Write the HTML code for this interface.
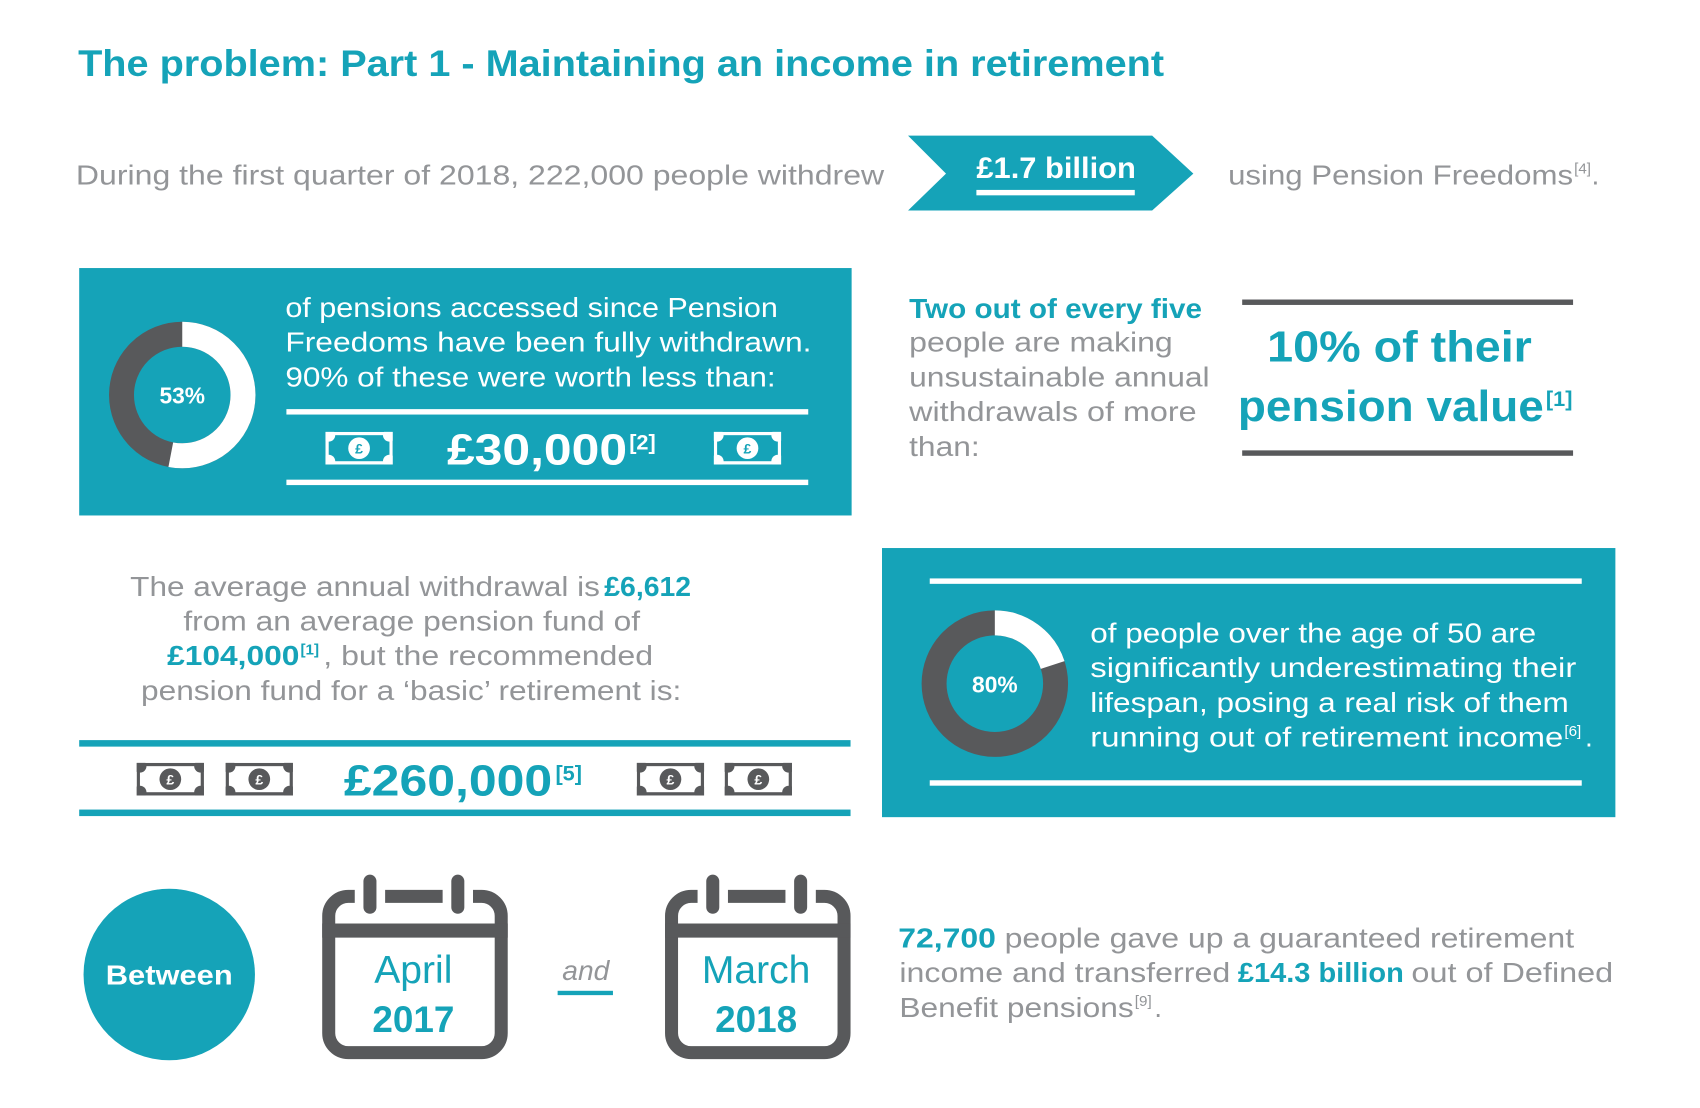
<!DOCTYPE html>
<html><head><meta charset="utf-8"><style>
html,body{margin:0;padding:0;background:#fff;}
svg{display:block;}
text{font-family:"Liberation Sans",sans-serif;}
.g{fill:#939598;}
.t{fill:#15a3b8;}
.w{fill:#fff;}
.b{font-weight:bold;}
</style></head><body>
<svg width="1700" height="1108" viewBox="0 0 1567 1021" preserveAspectRatio="none" xmlns="http://www.w3.org/2000/svg">
<defs>
<clipPath id="bc"><rect x="0" y="0" width="62" height="30"/></clipPath>
<g id="billW" clip-path="url(#bc)">
<rect x="0" y="0" width="62" height="30" fill="#fff"/>
<rect x="3" y="3" width="56" height="24" fill="#15a3b8"/>
<circle cx="3" cy="3" r="6" fill="#fff"/><circle cx="59" cy="3" r="6" fill="#fff"/>
<circle cx="3" cy="27" r="6" fill="#fff"/><circle cx="59" cy="27" r="6" fill="#fff"/>
<circle cx="31" cy="15" r="10" fill="#fff"/>
<text x="31" y="20" text-anchor="middle" font-size="13" font-weight="bold" fill="#15a3b8">£</text>
</g>
<g id="billD" clip-path="url(#bc)">
<rect x="0" y="0" width="62" height="30" fill="#58595b"/>
<rect x="3" y="3" width="56" height="24" fill="#fff"/>
<circle cx="3" cy="3" r="6" fill="#58595b"/><circle cx="59" cy="3" r="6" fill="#58595b"/>
<circle cx="3" cy="27" r="6" fill="#58595b"/><circle cx="59" cy="27" r="6" fill="#58595b"/>
<circle cx="31" cy="15" r="10" fill="#58595b"/>
<text x="31" y="20" text-anchor="middle" font-size="13" font-weight="bold" fill="#fff">£</text>
</g>
<g id="cal">
<rect x="6" y="6" width="159" height="144" rx="18" fill="#fff" stroke="#58595b" stroke-width="12"/>
<rect x="0" y="31" width="171" height="13" fill="#58595b"/>
<rect x="30" y="-6" width="28" height="24" fill="#fff"/>
<rect x="111" y="-6" width="28" height="24" fill="#fff"/>
<line x1="44" y1="-8" x2="44" y2="16" stroke="#58595b" stroke-width="12" stroke-linecap="round"/>
<line x1="125" y1="-8" x2="125" y2="16" stroke="#58595b" stroke-width="12" stroke-linecap="round"/>
</g>
</defs>

<text x="72" y="70" class="t b" font-size="34" textLength="1001" lengthAdjust="spacingAndGlyphs">The problem: Part 1 - Maintaining an income in retirement</text>

<text x="70" y="170" class="g" font-size="26" textLength="745" lengthAdjust="spacingAndGlyphs">During the first quarter of 2018, 222,000 people withdrew</text>
<polygon points="837,125 1062,125 1100,160 1062,194 837,194 872,160" fill="#15a3b8"/>
<text x="900" y="164" class="w b" font-size="27" textLength="147" lengthAdjust="spacingAndGlyphs">£1.7 billion</text>
<rect x="900" y="175" width="146" height="5" fill="#fff"/>
<text x="1132" y="170" class="g" font-size="26" textLength="318" lengthAdjust="spacingAndGlyphs">using Pension Freedoms</text>
<text x="1451" y="160" class="g" font-size="14">[4]</text>
<text x="1467" y="170" class="g" font-size="26">.</text>

<!-- box 1 -->
<rect x="73" y="247" width="712" height="228" fill="#15a3b8"/>
<circle cx="168" cy="364" r="56" fill="none" stroke="#58595b" stroke-width="23"/>
<circle cx="168" cy="364" r="56" fill="none" stroke="#fff" stroke-width="23" stroke-dasharray="186.5 400" transform="rotate(-90 168 364)"/>
<text x="168" y="372" text-anchor="middle" class="w b" font-size="21">53%</text>
<text x="263" y="292" class="w" font-size="26" textLength="454" lengthAdjust="spacingAndGlyphs">of pensions accessed since Pension</text>
<text x="263" y="324" class="w" font-size="26" textLength="485" lengthAdjust="spacingAndGlyphs">Freedoms have been fully withdrawn.</text>
<text x="263" y="356" class="w" font-size="26" textLength="452" lengthAdjust="spacingAndGlyphs">90% of these were worth less than:</text>
<rect x="264" y="377" width="481" height="5" fill="#fff"/>
<rect x="264" y="442" width="481" height="5" fill="#fff"/>
<use href="#billW" x="300" y="398"/>
<use href="#billW" x="658" y="398"/>
<text x="412" y="428" class="w b" font-size="40" textLength="166" lengthAdjust="spacingAndGlyphs">£30,000</text>
<text x="580" y="414" class="w b" font-size="20">[2]</text>

<!-- right of box 1 -->
<text x="838" y="293" class="t b" font-size="26" textLength="270" lengthAdjust="spacingAndGlyphs">Two out of every five</text>
<text x="838" y="324" class="g" font-size="26" textLength="243" lengthAdjust="spacingAndGlyphs">people are making</text>
<text x="838" y="356" class="g" font-size="26" textLength="277" lengthAdjust="spacingAndGlyphs">unsustainable annual</text>
<text x="838" y="388" class="g" font-size="26" textLength="265" lengthAdjust="spacingAndGlyphs">withdrawals of more</text>
<text x="838" y="420" class="g" font-size="26" textLength="65" lengthAdjust="spacingAndGlyphs">than:</text>
<rect x="1145" y="276" width="305" height="5" fill="#58595b"/>
<rect x="1145" y="415" width="305" height="5" fill="#58595b"/>
<text x="1168" y="333" class="t b" font-size="40" textLength="244" lengthAdjust="spacingAndGlyphs">10% of their</text>
<text x="1141" y="388" class="t b" font-size="40" textLength="282" lengthAdjust="spacingAndGlyphs">pension value</text>
<text x="1425" y="374" class="t b" font-size="20">[1]</text>

<!-- average text -->
<text x="120" y="549" class="g" font-size="26" textLength="433" lengthAdjust="spacingAndGlyphs">The average annual withdrawal is</text>
<text x="557" y="549" class="t b" font-size="26" textLength="80" lengthAdjust="spacingAndGlyphs">£6,612</text>
<text x="169" y="581" class="g" font-size="26" textLength="421" lengthAdjust="spacingAndGlyphs">from an average pension fund of</text>
<text x="154" y="613" class="t b" font-size="26" textLength="122" lengthAdjust="spacingAndGlyphs">£104,000</text>
<text x="277" y="603" class="t b" font-size="14">[1]</text>
<text x="298" y="613" class="g" font-size="26" textLength="304" lengthAdjust="spacingAndGlyphs">, but the recommended</text>
<text x="130" y="645" class="g" font-size="26" textLength="498" lengthAdjust="spacingAndGlyphs">pension fund for a ‘basic’ retirement is:</text>
<rect x="73" y="682" width="711" height="6" fill="#15a3b8"/>
<rect x="73" y="746" width="711" height="6" fill="#15a3b8"/>
<use href="#billD" x="126" y="703"/>
<use href="#billD" x="208" y="703"/>
<use href="#billD" x="587" y="703"/>
<use href="#billD" x="668" y="703"/>
<text x="317" y="733" class="t b" font-size="40" textLength="192" lengthAdjust="spacingAndGlyphs">£260,000</text>
<text x="512" y="719" class="t b" font-size="20">[5]</text>

<!-- box 2 -->
<rect x="813" y="505" width="676" height="248" fill="#15a3b8"/>
<rect x="857" y="533" width="601" height="5" fill="#fff"/>
<rect x="857" y="719" width="601" height="5" fill="#fff"/>
<circle cx="917" cy="630" r="56" fill="none" stroke="#58595b" stroke-width="23"/>
<circle cx="917" cy="630" r="56" fill="none" stroke="#fff" stroke-width="23" stroke-dasharray="70.4 400" transform="rotate(-90 917 630)"/>
<text x="917" y="638" text-anchor="middle" class="w b" font-size="21">80%</text>
<text x="1005" y="592" class="w" font-size="26" textLength="411" lengthAdjust="spacingAndGlyphs">of people over the age of 50 are</text>
<text x="1005" y="624" class="w" font-size="26" textLength="448" lengthAdjust="spacingAndGlyphs">significantly underestimating their</text>
<text x="1005" y="656" class="w" font-size="26" textLength="441" lengthAdjust="spacingAndGlyphs">lifespan, posing a real risk of them</text>
<text x="1005" y="688" class="w" font-size="26" textLength="436" lengthAdjust="spacingAndGlyphs">running out of retirement income</text>
<text x="1442" y="678" class="w" font-size="14">[6]</text>
<text x="1461" y="688" class="w" font-size="26">.</text>

<!-- bottom -->
<circle cx="156" cy="898" r="79" fill="#15a3b8"/>
<text x="156" y="907" text-anchor="middle" class="w b" font-size="26" textLength="117" lengthAdjust="spacingAndGlyphs">Between</text>
<use href="#cal" x="297" y="820"/>
<use href="#cal" x="613" y="820"/>
<text x="381" y="906" text-anchor="middle" class="t" font-size="36">April</text>
<text x="381" y="951" text-anchor="middle" class="t b" font-size="34">2017</text>
<text x="697" y="906" text-anchor="middle" class="t" font-size="36">March</text>
<text x="697" y="951" text-anchor="middle" class="t b" font-size="34">2018</text>
<text x="540" y="903" text-anchor="middle" fill="#939598" font-size="26" font-style="italic">and</text>
<rect x="514" y="913" width="51" height="4" fill="#15a3b8"/>

<text x="828" y="873" class="t b" font-size="26" textLength="90" lengthAdjust="spacingAndGlyphs">72,700</text>
<text x="926" y="873" class="g" font-size="26" textLength="525" lengthAdjust="spacingAndGlyphs">people gave up a guaranteed retirement</text>
<text x="829" y="905" class="g" font-size="26" textLength="305" lengthAdjust="spacingAndGlyphs">income and transferred</text>
<text x="1141" y="905" class="t b" font-size="26" textLength="153" lengthAdjust="spacingAndGlyphs">£14.3 billion</text>
<text x="1301" y="905" class="g" font-size="26" textLength="186" lengthAdjust="spacingAndGlyphs">out of Defined</text>
<text x="829" y="937" class="g" font-size="26" textLength="216" lengthAdjust="spacingAndGlyphs">Benefit pensions</text>
<text x="1046" y="927" class="g" font-size="14">[9]</text>
<text x="1064" y="937" class="g" font-size="26">.</text>
</svg>
</body></html>
